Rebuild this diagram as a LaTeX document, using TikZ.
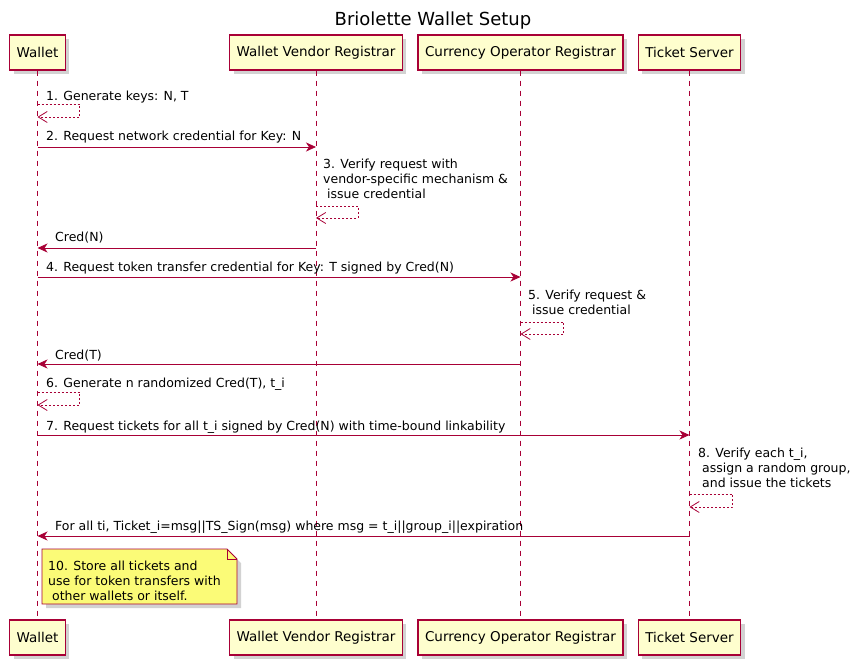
\documentclass[tikz,border=0pt]{standalone}
\usepackage{fontspec}
\setmainfont{DejaVu Sans}
\usetikzlibrary{arrows.meta,shadows,shapes.misc}

\definecolor{umlred}{HTML}{A80036}
\definecolor{umlbox}{HTML}{FEFECE}
\definecolor{umlnote}{HTML}{FBFB77}

\tikzset{
  actor/.style={draw=umlred, fill=umlbox, line width=1.2pt, minimum height=35pt,
    inner xsep=7pt, font=\fontsize{13.5}{16}\selectfont,
    drop shadow={shadow xshift=4pt, shadow yshift=-4pt, fill=black!35, opacity=.5}},
  lifeline/.style={draw=umlred, line width=0.8pt, dash pattern=on 5pt off 5pt},
  call/.style={draw=umlred, line width=0.8pt, -{Stealth[length=10pt, width=9pt, inset=3pt]}},
  reply/.style={draw=umlred, line width=0.8pt, dash pattern=on 2pt off 2pt,
    -{Straight Barb[length=9pt, width=11pt, line width=0.8pt]}},
  msg/.style={anchor=base west, inner sep=0pt, font=\fontsize{12.5}{15}\selectfont},
  txt/.style={align=left, anchor=north west, inner sep=0pt, font=\fontsize{12.5}{15}\selectfont}
}

\begin{document}
\begin{tikzpicture}[x=1pt, y=-1pt]
  \useasboundingbox (0,0) rectangle (865,663);

  \node[font=\fontsize{18}{21}\selectfont] (title) at (433,21) {Briolette Wallet Setup};

  % participants, top and bottom
  \node[actor] (w)    at (37.5,52.5)  {Wallet};
  \node[actor] (wvr)  at (316,52.5)   {Wallet Vendor Registrar};
  \node[actor] (cor)  at (520.5,52.5) {Currency Operator Registrar};
  \node[actor] (ts)   at (689.5,52.5) {Ticket Server};
  \node[actor] (wB)   at (37.5,637.5)  {Wallet};
  \node[actor] (wvrB) at (316,637.5)   {Wallet Vendor Registrar};
  \node[actor] (corB) at (520.5,637.5) {Currency Operator Registrar};
  \node[actor] (tsB)  at (689.5,637.5) {Ticket Server};

  \path[lifeline] (w)   -- (wB)
                  (wvr) -- (wvrB)
                  (cor) -- (corB)
                  (ts)  -- (tsB);

  % message rows
  \coordinate (r1a) at (0,104);
  \coordinate (r1b) at (0,117);
  \coordinate (r2)  at (0,147);
  \coordinate (r3a) at (0,206);
  \coordinate (r3b) at (0,218);
  \coordinate (r4)  at (0,248);
  \coordinate (r5)  at (0,277);
  \coordinate (r6a) at (0,322);
  \coordinate (r6b) at (0,334);
  \coordinate (r7)  at (0,364);
  \coordinate (r8a) at (0,392);
  \coordinate (r8b) at (0,405);
  \coordinate (r9)  at (0,435);
  \coordinate (r10a) at (0,494);
  \coordinate (r10b) at (0,507);
  \coordinate (r11) at (0,536);

  \draw[reply] (w |- r1a) -- ++(42,0) |- (w |- r1b);
  \node[msg] at (46,101) {1. Generate keys: N, T};

  \draw[call] (w |- r2) -- (wvr |- r2);
  \node[msg] at (46,141) {2. Request network credential for Key: N};

  \draw[reply] (wvr |- r3a) -- ++(42,0) |- (wvr |- r3b);
  \node[txt] at (323,159) {3. Verify request with\\vendor-specific mechanism \&\\ \ issue credential};

  \draw[call] (wvr |- r4) -- (w |- r4);
  \node[msg] at (55,242) {Cred(N)};

  \draw[call] (w |- r5) -- (cor |- r5);
  \node[msg] at (46,272) {4. Request token transfer credential for Key: T signed by Cred(N)};

  \draw[reply] (cor |- r6a) -- ++(43,0) |- (cor |- r6b);
  \node[txt] at (528,290) {5. Verify request \&\\ \ issue credential};

  \draw[call] (cor |- r7) -- (w |- r7);
  \node[msg] at (55,359) {Cred(T)};

  \draw[reply] (w |- r8a) -- ++(42,0) |- (w |- r8b);
  \node[msg] at (46,387) {6. Generate n randomized Cred(T), t\_i};

  \draw[call] (w |- r9) -- (ts |- r9);
  \node[msg] at (46,430) {7. Request tickets for all t\_i signed by Cred(N) with time-bound linkability};

  \draw[reply] (ts |- r10a) -- ++(43,0) |- (ts |- r10b);
  \node[txt] at (698,448) {8. Verify each t\_i,\\ \ assign a random group,\\ \ and issue the tickets};

  \draw[call] (ts |- r11) -- (w |- r11);
  \node[msg] at (55,530) {For all ti, Ticket\_i=msg||TS\_Sign(msg) where msg = t\_i||group\_i||expiration};

  % note
  \path[fill=black!35, opacity=.5] (46,553) -- (231,553) -- (241,563) -- (241,608) -- (46,608) -- cycle;
  \draw[umlred, fill=umlnote, line width=0.8pt] (42,549) -- (227,549) -- (237,559) -- (237,604) -- (42,604) -- cycle;
  \draw[umlred, line width=0.8pt] (227,549) -- (227,559) -- (237,559);
  \node[txt] (note) at (48,561) {10. Store all tickets and\\use for token transfers with\\ \ other wallets or itself.};
\end{tikzpicture}
\end{document}
